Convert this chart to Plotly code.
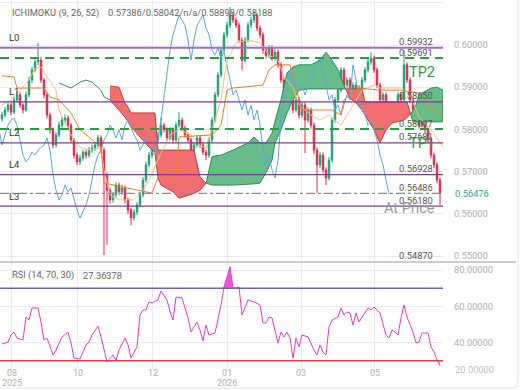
import numpy as np
import plotly.graph_objects as go

# ---------------- data (prices in 1e-4 units) ----------------
bars = list(range(147))
opens = [5825,5834,5846,5858,5841,5870,5882,5858,5846,5882,5917,5941,5960,5964,5917,5882,5834,5799,5763,5787,
         5810,5822,5827,5810,5775,5739,5723,5732,5746,5739,5751,5756,5763,5780,5751,5692,5656,5633,5645,5668,
         5652,5661,5633,5609,5590,5604,5621,5645,5680,5716,5739,5751,5775,5787,5810,5799,5780,5799,5775,5810,
         5822,5803,5787,5775,5751,5763,5780,5763,5746,5739,5775,5822,5882,5929,5988,6024,6047,6071,6059,6047,
         6012,5964,6012,6047,6059,6071,6040,6024,5988,5976,5993,5969,5983,5953,5917,5882,5893,5870,5846,5870,
         5834,5858,5822,5846,5810,5751,5716,5739,5704,5685,5727,5822,5870,5893,5941,5905,5917,5893,5905,5882,
         5898,5917,5941,5960,5969,5941,5905,5870,5882,5846,5858,5834,5858,5882,5870,5953,5917,5870,5846,5834,
         5810,5822,5799,5775,5739,5716,5680]
closes = [5834,5846,5858,5841,5870,5882,5858,5846,5882,5917,5941,5960,5964,5917,5882,5834,5799,5763,5787,5810,
          5822,5827,5810,5775,5739,5723,5732,5746,5739,5751,5756,5763,5780,5751,5692,5656,5633,5645,5668,5652,
          5661,5633,5609,5590,5604,5621,5645,5680,5716,5739,5751,5775,5787,5810,5799,5780,5799,5775,5810,5822,
          5803,5787,5775,5751,5763,5780,5763,5746,5739,5775,5822,5882,5929,5988,6024,6047,6071,6059,6047,6012,
          5964,6012,6047,6059,6071,6040,6024,5988,5976,5993,5969,5983,5953,5917,5882,5893,5870,5846,5870,5834,
          5858,5822,5846,5810,5751,5716,5739,5704,5685,5727,5822,5870,5893,5941,5905,5917,5893,5905,5882,5898,
          5917,5941,5960,5969,5941,5905,5870,5882,5846,5858,5834,5858,5882,5870,5953,5917,5870,5846,5834,5810,
          5822,5799,5775,5739,5716,5680,5648]
highs = [5842,5853,5866,5864,5877,5890,5888,5862,5889,5925,5948,5968,6005,5972,5922,5888,5840,5805,5793,5818,
         5830,5836,5833,5815,5780,5745,5740,5752,5753,5758,5764,5770,5787,5786,5757,5698,5662,5652,5675,5674,
         5668,5667,5638,5615,5611,5628,5652,5687,5723,5746,5758,5782,5795,5829,5816,5805,5806,5805,5817,5841,
         5828,5809,5793,5780,5770,5787,5786,5769,5752,5782,5829,5889,5936,5995,6031,6055,6090,6078,6066,6053,
         6018,6019,6054,6067,6080,6077,6046,6030,5995,6000,5999,5990,5989,5959,5923,5900,5899,5876,5877,5876,
         5865,5864,5853,5852,5816,5757,5746,5745,5710,5734,5829,5877,5900,5948,5947,5924,5923,5912,5911,5905,
         5924,5948,5967,5983,5975,5947,5911,5889,5888,5865,5864,5865,5889,5888,5988,5959,5923,5876,5852,5840,
         5829,5828,5805,5781,5745,5722,5686]
lows = [5818,5828,5840,5833,5836,5864,5850,5838,5842,5876,5910,5935,5952,5910,5874,5826,5790,5755,5757,5781,
        5804,5815,5802,5768,5731,5715,5716,5726,5731,5733,5744,5749,5757,5744,5502,5526,5624,5626,5638,5644,
        5645,5625,5600,5573,5584,5597,5615,5639,5674,5710,5732,5745,5768,5781,5792,5772,5774,5768,5769,5804,
        5796,5780,5768,5744,5745,5757,5756,5739,5727,5733,5769,5816,5876,5923,5982,6017,6040,6052,6040,6005,
        5941,5958,6006,6040,6052,6033,6016,5980,5968,5970,5962,5963,5946,5910,5874,5876,5862,5838,5840,5826,
        5828,5744,5816,5802,5742,5649,5709,5696,5668,5679,5721,5816,5864,5887,5898,5899,5886,5887,5875,5876,
        5892,5911,5935,5953,5934,5898,5862,5864,5838,5840,5826,5828,5852,5862,5864,5910,5862,5838,5826,5802,
        5804,5791,5767,5731,5708,5672,5621]

CHIKOU_SHIFT = 17

cloud_bars = [19,22,23,26,28,30,33,34,36,39,41,42,43,46,49,51,52,53,57,59,63,64,66,68,70,71,73,77,82,84,86,88,
              90,91,93,95,97,99,102,103,106,108,110,112,114,116,118,120,121,122,124,126,128,130,134,135,136,137,
              138,139,143,145,147]
span_a = [5910,5900,5898,5912,5917,5912,5893,5877,5870,5846,5829,5818,5806,5782,5758,5746,5685,5668,5652,5637,
          5645,5648,5656,5671,5735,5737,5739,5751,5768,5782,5768,5768,5791,5820,5870,5934,5948,5953,5953,5953,
          5964,5983,5964,5941,5905,5874,5863,5846,5834,5822,5799,5768,5799,5815,5822,5828,5834,5846,5858,5882,
          5898,5900,5893]
span_b = [None]*8 + [5903,5900,5862,5853,5839,5839,5839,5839,5751,5751,5751,5751,5751,5751,5687,5673,5668,5668,
          5668,5668,5670,5671,5673,5697,5727,5768,5799,5839,5870,5893,5896,5896,5896,5896,5896,5896,5896,5896,
          5896,5896,5865,5865,5865,5865,5865,5865,5865,5865,5841,5818,5818,5818,5818,5818,5818]

tenkan_bars = [0,3,6,9,11,13,15,18,19,22,24,26,29,33,34,36,39,44,47,49,53,56,59,63,66,68,70,73,75,78,82,86,89,
               92,94,97,99,103,106,109,113,116,120,124,126,133,136,139,143,147]
tenkan = [5858,5870,5893,5917,5945,5948,5924,5893,5846,5799,5775,5758,5751,5756,5704,5645,5633,5633,5656,5680,
          5744,5787,5799,5787,5763,5756,5799,5870,5964,6005,6012,6005,5976,5964,5924,5900,5858,5834,5822,5834,
          5810,5846,5893,5905,5898,5898,5882,5829,5799,5758]
kijun_bars = [0,4,5,14,16,19,23,26,33,34,50,52,58,59,70,73,75,77,87,89,91,96,99,100,110,113,114,119,126,133,139,
              142,145,147]
kijun = [5927,5924,5898,5898,5877,5870,5839,5799,5758,5673,5649,5687,5687,5782,5787,5810,5893,5898,5905,5941,
         5953,5953,5870,5846,5846,5834,5870,5898,5893,5893,5886,5853,5846,5829]

rsi_bars = [0,2,3,4,5,7,8,9,10,12,13,14,15,17,18,20,22,23,24,26,28,29,30,32,33,34,35,37,38,39,41,42,43,45,46,47,
            48,49,50,52,53,55,56,57,58,60,62,63,65,66,67,68,69,71,73,74,76,77,79,80,82,84,86,87,88,89,90,92,93,94,
            95,96,97,98,99,100,102,104,105,106,107,108,109,110,112,113,114,115,116,117,118,119,120,122,123,124,126,
            128,129,130,131,132,133,134,135,137,138,139,140,142,143,144,145,146]
rsi = [39.2,40.3,44.2,45.8,42.5,41.4,54.1,52.5,59.1,59.1,51.3,41.4,42.5,33.2,35.9,43.1,45.8,39.8,31.5,31.0,38.7,
       40.3,44.2,49.1,43.1,35.9,29.4,33.2,30.2,35.9,42.5,38.7,31.5,37.6,55.2,58.0,58.0,62.4,61.8,63.5,68.4,63.5,
       56.9,52.5,65.1,64.6,53.6,45.8,51.3,46.9,40.9,49.7,44.2,45.3,60.7,70.6,81.7,70.1,70.6,55.2,63.5,62.4,60.7,
       50.8,50.8,54.1,53.6,39.8,45.8,43.1,45.8,42.5,31.5,42.5,37.6,44.2,43.1,35.9,33.2,38.7,34.8,33.2,48.6,52.5,
       54.1,59.1,55.2,56.9,56.3,49.7,56.3,51.3,54.1,59.1,58.0,59.6,56.3,44.2,42.5,46.9,45.8,44.2,53.6,60.7,54.1,
       45.8,39.8,40.3,45.3,45.3,37.6,34.8,30.4,27.36]

month_bars = [3.33, 25.33, 50.33, 75.0, 99.67, 124.33]
month_text = ["08", "10", "12", "01", "03", "05"]
year_marks = {"2025": 3.33, "2026": 75.0}
price_ticks = [0.55, 0.56, 0.57, 0.58, 0.59, 0.60, 0.61]
rsi_ticks = [40, 60, 80]

purple_levels = {"L0": 0.59932, "L1": 0.58650, "L2": 0.57681, "L4": 0.56928, "L3": 0.56180}
tp_levels = {"TP2": 0.59691, "TP1": 0.58007}
at_price = 0.56486
bottom_level = 0.54870
last_price = 0.56476

# ---------------- build ----------------
S = 1e4
O = np.array(opens) / S; H = np.array(highs) / S; L = np.array(lows) / S; C = np.array(closes) / S
PW, PH = 443.0, 370.0  # plot area pixels
def px(xp): return xp / PW
def py(yp): return 1 - yp / PH

fig = go.Figure()

# cloud
cx = np.array(cloud_bars, float)
ca = np.array(span_a, float) / S
cb = np.array([np.nan if v is None else v for v in span_b], float) / S
valid = ~np.isnan(cb)
first = int(np.argmax(valid))
fig.add_trace(go.Scatter(x=cx[:first + 1], y=ca[:first + 1], mode="lines",
                         line=dict(color="#3a8f6e", width=1), hoverinfo="skip", showlegend=False))
x_, a_, b_ = cx[first:], ca[first:], cb[first:]
polys = []
cur = ([x_[0]], [a_[0]], [b_[0]]); sign = a_[0] >= b_[0]
for i in range(1, len(x_)):
    s = a_[i] >= b_[i]
    if s != sign:
        d0 = a_[i - 1] - b_[i - 1]; d1 = a_[i] - b_[i]
        t = d0 / (d0 - d1)
        xc = x_[i - 1] + t * (x_[i] - x_[i - 1]); yc = a_[i - 1] + t * (a_[i] - a_[i - 1])
        cur[0].append(xc); cur[1].append(yc); cur[2].append(yc)
        polys.append((sign, cur))
        cur = ([xc], [yc], [yc]); sign = s
    cur[0].append(x_[i]); cur[1].append(a_[i]); cur[2].append(b_[i])
polys.append((sign, cur))
for sgn, (xx, aa, bb) in polys:
    fill = "#66bd89" if sgn else "#f36f6f"
    edge = "#2f8a58" if sgn else "#c23b3b"
    fig.add_trace(go.Scatter(x=list(xx) + list(xx)[::-1], y=list(aa) + list(bb)[::-1], fill="toself",
                             fillcolor=fill, mode="lines", line=dict(color=edge, width=1),
                             hoverinfo="skip", showlegend=False))

# candles
fig.add_trace(go.Candlestick(x=bars, open=O, high=H, low=L, close=C,
                             increasing=dict(line=dict(color="#1f9e72", width=1), fillcolor="#1f9e72"),
                             decreasing=dict(line=dict(color="#e0284d", width=1), fillcolor="#e0284d"),
                             whiskerwidth=0, showlegend=False, hoverinfo="skip"))

# lines
fig.add_trace(go.Scatter(x=[b - CHIKOU_SHIFT for b in bars], y=C, mode="lines",
                         line=dict(color="#5aa8dc", width=1), showlegend=False, hoverinfo="skip"))
fig.add_trace(go.Scatter(x=tenkan_bars, y=np.array(tenkan) / S, mode="lines",
                         line=dict(color="#f6bf86", width=1), showlegend=False, hoverinfo="skip"))
fig.add_trace(go.Scatter(x=kijun_bars, y=np.array(kijun) / S, mode="lines",
                         line=dict(color="#e8812f", width=1), showlegend=False, hoverinfo="skip"))

# RSI
r = np.array(rsi)
fig.add_trace(go.Scatter(x=rsi_bars, y=[70] * len(rsi_bars), mode="lines", line=dict(width=0),
                         xaxis="x2", yaxis="y2", showlegend=False, hoverinfo="skip"))
fig.add_trace(go.Scatter(x=rsi_bars, y=np.maximum(r, 70), mode="lines", line=dict(width=0), fill="tonexty",
                         fillcolor="#ff4fe3", xaxis="x2", yaxis="y2", showlegend=False, hoverinfo="skip"))
fig.add_trace(go.Scatter(x=rsi_bars, y=[30] * len(rsi_bars), mode="lines", line=dict(width=0),
                         xaxis="x2", yaxis="y2", showlegend=False, hoverinfo="skip"))
fig.add_trace(go.Scatter(x=rsi_bars, y=np.minimum(r, 30), mode="lines", line=dict(width=0), fill="tonexty",
                         fillcolor="#86e6f3", xaxis="x2", yaxis="y2", showlegend=False, hoverinfo="skip"))
fig.add_trace(go.Scatter(x=rsi_bars, y=r, mode="lines", line=dict(color="#e23fc6", width=1),
                         xaxis="x2", yaxis="y2", showlegend=False, hoverinfo="skip"))

shapes = []
def hline(yv, color, width, dash="solid", yref="y"):
    shapes.append(dict(type="line", xref="paper", x0=0, x1=1, yref=yref, y0=yv, y1=yv,
                       line=dict(color=color, width=width, dash=dash)))

hline(70, "#6767b5", 1.5, yref="y2")
hline(30, "#d8404c", 1.5, yref="y2")
for k, v in purple_levels.items():
    hline(v, "#a36cc4" if k == "L0" else "#7f3b99", 2 if k == "L0" else 1.3)
for k, v in tp_levels.items():
    hline(v, "#2f9a45", 2, "9px,6px")
hline(at_price, "#8c8c8c", 1.2, "dashdot")
# separator / bottom level line
shapes.append(dict(type="line", xref="paper", yref="paper", x0=0, x1=px(516), y0=py(262), y1=py(262),
                   line=dict(color="#9a9a9a", width=1)))
# card border (right / bottom)
shapes.append(dict(type="path", xref="paper", yref="paper",
                   path=f"M {px(518)} {py(0)} L {px(518)} {py(382)} Q {px(518)} {py(388)} {px(512)} {py(388)} L {px(0)} {py(388)}",
                   line=dict(color="#e2e2e2", width=1)))

ann = []
FONT = "Roboto, Arial, sans-serif"
def note(text, x, y, xanchor="left", yref="paper", yshift=0, size=9.3, color="#666", xref="paper",
         yanchor="middle"):
    ann.append(dict(text=text, x=x, y=y, xref=xref, yref=yref, xanchor=xanchor, yanchor=yanchor,
                    yshift=yshift, showarrow=False, font=dict(family=FONT, size=size, color=color)))

note("ICHIMOKU (9, 26, 52)", px(10), py(13))
note("0.57386/0.58042/n/a/0.58898/0.58188", px(106), py(13))
note("RSI (14, 70, 30)", px(10), py(275))
note("27.36378", px(81), py(275))

for k, v in purple_levels.items():
    note(k, px(7), v, yref="y", yshift=10, size=9.5, color="#333")
for v in list(purple_levels.values()) + list(tp_levels.values()) + [at_price, bottom_level]:
    note(f"{v:.5f}", px(435), v, xanchor="right", yref="y", yshift=6, size=9.3, color="#555")
for k, v in tp_levels.items():
    note(k, px(437), v, xanchor="right", yref="y", yshift=-14, size=14.5, color="#2f9a45")
note("At Price", px(437), at_price, xanchor="right", yref="y", yshift=-15, size=14.5, color="#9a9a9a")
note(f"{last_price:.5f}", px(453), last_price, yref="y", size=9.3, color="#27a88f")
# lowest RSI grid label, cut by the panel edge in the source
note("20.00000", px(453), py(369), size=9.3, color="#c0c0c0")
for yr, b in year_marks.items():
    note(yr, b, py(390), xanchor="center", size=9, color="#b0b0b0", xref="x2", yanchor="bottom")

axis_font = dict(family=FONT, size=9.3, color="#b0b0b0")
xrange = [-0.667, 147]
fig.update_layout(
    width=520, height=390, margin=dict(l=0, r=77, t=0, b=20, autoexpand=False),
    paper_bgcolor="white", plot_bgcolor="white", showlegend=False,
    shapes=shapes, annotations=ann,
    xaxis=dict(domain=[0, 1], range=xrange, anchor="y", showticklabels=False, tickvals=month_bars,
               showgrid=True, gridcolor="#ebebeb", zeroline=False, rangeslider=dict(visible=False),
               showline=False, automargin=False),
    xaxis2=dict(domain=[0, 1], range=xrange, anchor="y2", tickvals=month_bars, ticktext=month_text,
                tickfont=dict(family=FONT, size=9, color="#b0b0b0"), showgrid=True, gridcolor="#ebebeb",
                zeroline=False, ticks="", showline=False, automargin=False, ticklabelstandoff=-4),
    yaxis=dict(domain=[1 - 262 / PH, 1], range=[0.548578, 0.610664], side="right", anchor="x",
               tickvals=price_ticks, ticktext=[f"{v:.5f}" for v in price_ticks], tickfont=axis_font,
               showgrid=True, gridcolor="#ebebeb", zeroline=False, ticks="", ticklabelstandoff=10,
               automargin=False),
    yaxis2=dict(domain=[0, 1 - 263 / PH], range=[24.9, 83.86], side="right", anchor="x2",
                tickvals=rsi_ticks, ticktext=[f"{v:.5f}" for v in rsi_ticks], tickfont=axis_font,
                showgrid=True, gridcolor="#ebebeb", zeroline=False, ticks="", ticklabelstandoff=10,
                automargin=False),
)
fig.write_html("out.html")
